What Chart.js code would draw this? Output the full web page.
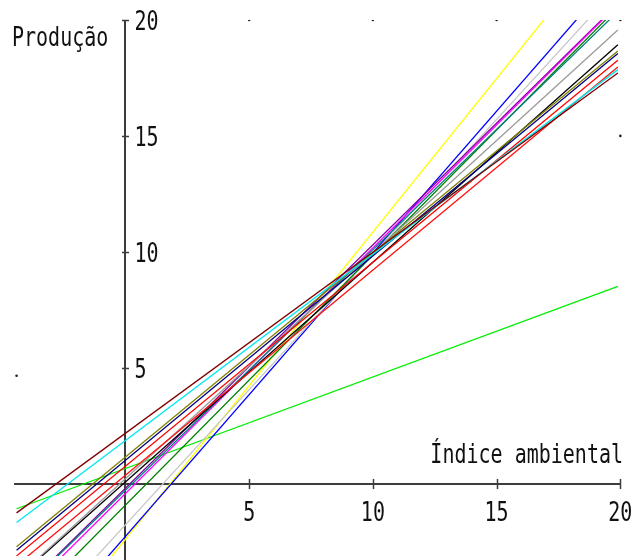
<!DOCTYPE html>
<html>
<head>
<meta charset="utf-8">
<script src="https://cdn.jsdelivr.net/npm/chart.js@4"></script>
<style>
  html, body { margin: 0; padding: 0; background: #ffffff; }
  canvas { display: block; }
</style>
</head>
<body>
<canvas id="chart" width="635" height="560"></canvas>
<script>
// Regression of yield (Produção) on the environmental index, one line per genotype.
const genotypes  = ['G01','G02','G03','G04','G05','G06','G07','G08','G09','G10','G11','G12','G13','G14','G15','G16'];
const intercepts = [2.17, 1.86, 1.15, 1.00, 0.75, 0.36, 0.21, 0.07, -0.29, -0.43, -0.20, -0.93, -1.78, -2.28, -2.40, 0.65];
const slopes     = [0.781, 0.804, 0.880, 0.882, 0.880, 0.885, 0.973, 0.948, 1.038, 1.060, 1.050, 1.079, 1.166, 1.223, 1.325, 0.395];
const lineColors = ['#800000','#00e8f0','#808000','#000080','#ff0000','#ff1010','#9a9a9a','#000000',
                    '#008080','#ff00ff','#8000a0','#008000','#c8c8c8','#0000ff','#ffff00','#00ee00'];

// Index range over which each regression line is drawn
const indexStart = -4.4;
const indexEnd   = 19.9;

// Axis ticks and labels
const xTicks = [5, 10, 15, 20];
const yTicks = [5, 10, 15, 20];
const xTitle = 'Índice ambiental';
const yTitle = 'Produção';

// Small reference dots on the 5-unit grid
const gridDotX = [5, 10, 15, 20, 20, -4.4];
const gridDotY = [20, 20, 20, 20, 15, 4.65];

const lineDatasets = genotypes.map((g, i) => ({
  label: g,
  data: [
    { x: indexStart, y: intercepts[i] + slopes[i] * indexStart },
    { x: indexEnd,   y: intercepts[i] + slopes[i] * indexEnd }
  ],
  borderColor: lineColors[i],
  borderWidth: 1.3,
  pointRadius: 0,
  tension: 0,
  fill: false
}));

const dotDataset = {
  type: 'scatter',
  label: 'grid',
  data: gridDotX.map((x, i) => ({ x: x, y: gridDotY[i] })),
  pointRadius: 1.3,
  pointBorderWidth: 0,
  backgroundColor: '#222222',
  borderColor: '#222222',
  showLine: false
};

const AXIS_COLOR = '#3c3c3c';
const TEXT_COLOR = '#111111';
const FONT = '20px "DejaVu Sans Mono", monospace';
const STRETCH = 1.3;

function drawTall(ctx, text, x, baseline, align) {
  ctx.save();
  ctx.font = FONT;
  ctx.fillStyle = TEXT_COLOR;
  ctx.textAlign = align;
  ctx.textBaseline = 'alphabetic';
  ctx.translate(x, baseline);
  ctx.scale(1, STRETCH);
  ctx.fillText(text, 0, 0);
  ctx.restore();
}

const crossAxes = {
  id: 'crossAxes',
  beforeDatasetsDraw(chart) {
    const { ctx, scales: { x, y } } = chart;
    const x0 = Math.round(x.getPixelForValue(0));
    const y0 = Math.round(y.getPixelForValue(0));
    ctx.save();
    ctx.strokeStyle = AXIS_COLOR;
    ctx.lineWidth = 2;
    ctx.beginPath();
    ctx.moveTo(x0, Math.round(y.getPixelForValue(20)));
    ctx.lineTo(x0, chart.height);
    ctx.moveTo(Math.round(x.getPixelForValue(-4.5)), y0);
    ctx.lineTo(Math.round(x.getPixelForValue(20)) + 1, y0);
    ctx.stroke();
    ctx.lineWidth = 1.5;
    ctx.beginPath();
    xTicks.forEach(v => {
      const px = Math.round(x.getPixelForValue(v)) + 0.5;
      ctx.moveTo(px, y0 - 5);
      ctx.lineTo(px, y0 + 5);
    });
    yTicks.forEach(v => {
      const py = Math.round(y.getPixelForValue(v)) + 0.5;
      ctx.moveTo(x0 - 3, py);
      ctx.lineTo(x0 + 4, py);
    });
    ctx.stroke();
    ctx.restore();
  },
  afterDraw(chart) {
    const { ctx, scales: { x, y } } = chart;
    const x0 = x.getPixelForValue(0);
    const y0 = y.getPixelForValue(0);
    xTicks.forEach(v => drawTall(ctx, String(v), x.getPixelForValue(v), y0 + 37, 'center'));
    yTicks.forEach(v => drawTall(ctx, String(v), x0 + 9, y.getPixelForValue(v) + 10, 'left'));
    drawTall(ctx, yTitle, 12, 45.5, 'left');
    drawTall(ctx, xTitle, 623, 463, 'right');
  }
};

new Chart(document.getElementById('chart'), {
  type: 'line',
  data: { datasets: [...lineDatasets, dotDataset] },
  options: {
    responsive: false,
    animation: false,
    events: [],
    layout: { padding: { top: 20, left: 0, right: 0, bottom: 0 } },
    plugins: { legend: { display: false }, tooltip: { enabled: false } },
    scales: {
      x: { type: 'linear', min: -4.908, max: 20.431, display: false },
      y: { type: 'linear', min: -3.126, max: 20, display: false }
    }
  },
  plugins: [crossAxes]
});
</script>
</body>
</html>
